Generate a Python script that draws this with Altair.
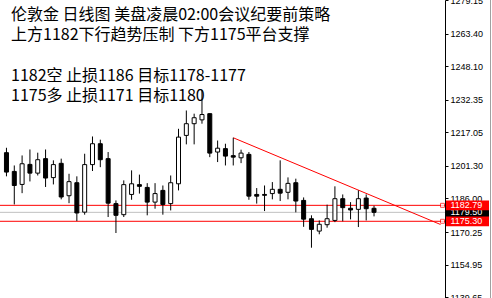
import altair as alt
import pandas as pd

# ---- data (daily candles, XAUUSD) ----
opens = [1207.5, 1198.7, 1192.6, 1202.0, 1197.9, 1204.7, 1195.8, 1202.5, 1187.3, 1193.4,
         1179.6, 1201.9, 1211.7, 1204.7, 1183.6, 1178.4, 1187.9, 1192.5, 1191.2, 1184.3,
         1189.8, 1183.6, 1192.9, 1215.6, 1221.1, 1222.9, 1225.8, 1207.8, 1209.4, 1206.1,
         1205.1, 1206.7, 1187.9, 1187.9, 1188.3, 1190.3, 1188.9, 1193.4, 1185.1, 1176.5,
         1170.7, 1173.7, 1175.7, 1185.9, 1181.4, 1180.9, 1186.2, 1181.4]
highs = [1209.8, 1201.5, 1206.2, 1209.0, 1207.5, 1209.0, 1203.9, 1204.7, 1197.6, 1196.4,
         1207.0, 1215.1, 1213.6, 1207.8, 1185.1, 1194.5, 1199.2, 1197.2, 1193.2, 1193.2,
         1192.1, 1196.8, 1218.7, 1227.3, 1225.8, 1236.9, 1226.0, 1213.2, 1211.7, 1214.5,
         1208.9, 1207.8, 1190.9, 1192.1, 1193.7, 1203.9, 1195.9, 1195.3, 1186.5, 1178.1,
         1175.7, 1183.1, 1191.7, 1187.9, 1184.3, 1189.8, 1187.9, 1182.6]
lows = [1196.4, 1183.2, 1188.5, 1194.0, 1196.8, 1191.4, 1192.6, 1185.6, 1183.8, 1175.4,
        1178.4, 1198.9, 1200.7, 1177.3, 1169.8, 1177.3, 1185.4, 1188.3, 1178.1, 1181.2,
        1178.4, 1180.4, 1189.8, 1211.4, 1211.4, 1221.1, 1205.4, 1203.1, 1201.5, 1201.5,
        1202.6, 1185.4, 1183.6, 1180.1, 1185.6, 1184.8, 1185.6, 1179.5, 1172.7, 1162.9,
        1169.2, 1172.3, 1174.9, 1175.3, 1176.2, 1172.6, 1175.7, 1177.6]
closes = [1198.4, 1192.1, 1202.3, 1197.9, 1204.2, 1195.6, 1201.9, 1186.7, 1193.9, 1179.2,
          1201.9, 1211.7, 1204.2, 1183.8, 1178.1, 1192.5, 1192.9, 1191.7, 1184.3, 1188.3,
          1183.2, 1193.4, 1214.8, 1221.1, 1223.9, 1225.4, 1207.3, 1209.6, 1205.9, 1205.4,
          1207.3, 1187.1, 1187.1, 1187.5, 1190.3, 1188.5, 1193.1, 1184.8, 1176.3, 1171.5,
          1173.9, 1176.5, 1185.9, 1181.7, 1180.6, 1185.9, 1181.2, 1179.5]

axis_values = [1139.65, 1154.95, 1170.25, 1186.00, 1201.30, 1217.05, 1232.35, 1248.10, 1263.40, 1279.15]
y_domain = [1139.3, 1279.15]

trend_idx = [29, 55.5]
trend_price = [1214.5, 1173.8]

level_prices = [1182.79, 1175.30]
bid_price = [1179.50]

note_head = [
    "伦敦金 日线图 美盘凌晨02:00会议纪要前策略",
    "上方1182下行趋势压制 下方1175平台支撑",
]
note_plan = [
    "1182空 止损1186 目标1178-1177",
    "1175多 止损1171 目标1180",
]

# ---- tables ----
candles = pd.DataFrame({"i": list(range(len(opens))), "open": opens, "high": highs,
                        "low": lows, "close": closes})
candles["bull"] = candles["close"] >= candles["open"]
trend = pd.DataFrame({"i": trend_idx, "p": trend_price})
levels = pd.DataFrame({"p": level_prices})
bid = pd.DataFrame({"p": bid_price})
one = pd.DataFrame({"k": [0]})

LABEL_FONT = "Liberation Sans"
xs = alt.Scale(domain=[-0.1875, 55.4375], nice=False, zero=False)
ys = alt.Scale(domain=y_domain, nice=False, zero=False)
yax = alt.Axis(orient="right", values=axis_values, format=".2f", title=None, grid=False,
               labelFont=LABEL_FONT, labelFontSize=9, labelColor="black", labelPadding=2,
               tickColor="black", tickSize=3, domainColor="black", labelFlush=False,
               labelOverlap=False, labelBound=False)

X = alt.X("i:Q", scale=xs, axis=None)

wicks = alt.Chart(candles).mark_rule(color="black", strokeWidth=1).encode(
    x=X, y=alt.Y("low:Q", scale=ys, axis=yax), y2="high:Q")

bodies = alt.Chart(candles).mark_bar(size=4, stroke="black", strokeWidth=1).encode(
    x=X, y=alt.Y("open:Q", scale=ys, axis=yax), y2="close:Q",
    fill=alt.when(alt.datum.bull).then(alt.value("white")).otherwise(alt.value("black")))

bid_line = alt.Chart(bid).mark_rule(color="#c0c0c0", strokeWidth=1).encode(
    y=alt.Y("p:Q", scale=ys, axis=yax))

level_lines = alt.Chart(levels).mark_rule(color="#ff0000", strokeWidth=1).encode(
    y=alt.Y("p:Q", scale=ys, axis=yax))

level_marks = alt.Chart(levels).mark_square(size=16, filled=True, fill="white",
                                            stroke="#ff0000", strokeWidth=1).encode(
    x=alt.value(442.5), y=alt.Y("p:Q", scale=ys, axis=yax))

trend_line = alt.Chart(trend).mark_line(color="#ff0000", strokeWidth=1).encode(
    x=X, y=alt.Y("p:Q", scale=ys, axis=yax))

bid_box = alt.Chart(bid).transform_calculate(
    top="datum.p + 2.3", bot="datum.p - 2.3").mark_rect(color="black").encode(
    x=alt.value(446), x2=alt.value(489),
    y=alt.Y("top:Q", scale=ys, axis=yax), y2="bot:Q")
bid_text = alt.Chart(bid).mark_text(align="left", baseline="middle", font=LABEL_FONT,
                                    fontSize=9, color="white").encode(
    x=alt.value(450.5), y=alt.Y("p:Q", scale=ys, axis=yax), text=alt.Text("p:Q", format=".2f"))

level_box = alt.Chart(levels).transform_calculate(
    top="datum.p + 2.3", bot="datum.p - 2.3").mark_rect(color="#ff0000").encode(
    x=alt.value(446), x2=alt.value(489),
    y=alt.Y("top:Q", scale=ys, axis=yax), y2="bot:Q")
level_text = alt.Chart(levels).mark_text(align="left", baseline="middle", font=LABEL_FONT,
                                         fontSize=9, color="white").encode(
    x=alt.value(450.5), y=alt.Y("p:Q", scale=ys, axis=yax), text=alt.Text("p:Q", format=".2f"))

border = alt.Chart(one).mark_rule(color="#a0a0a0", strokeWidth=1).encode(
    x=alt.value(490.5), y=alt.value(0), y2=alt.value(298))


def note_block(lines, baseline_y):
    df = pd.DataFrame({"note": ["\n".join(lines)]})
    return alt.Chart(df).mark_text(align="left", baseline="alphabetic",
                                   font="Noto Sans CJK SC", fontSize=16, color="black",
                                   lineBreak="\n", lineHeight=20.3).encode(
        x=alt.value(11), y=alt.value(baseline_y), text="note:N")


chart = alt.layer(
    bid_line, level_lines, trend_line, wicks, bodies, level_marks,
    bid_box, bid_text, level_box, level_text, border,
    note_block(note_head, 20), note_block(note_plan, 81)
).properties(
    width=445, height=298,
    padding={"left": 0, "top": 0, "right": 47, "bottom": 0},
    autosize=alt.AutoSizeParams(type="none"),
    background="white",
).configure_view(strokeWidth=0)

chart.save("out.html", embed_options={"renderer": "svg", "actions": False})
